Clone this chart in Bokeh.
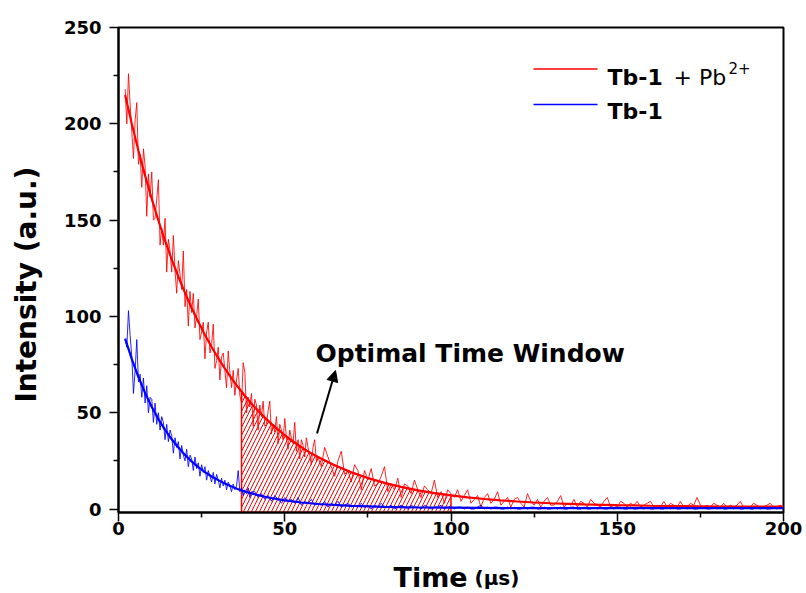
import numpy as np
from bokeh.plotting import figure
from bokeh.models import FixedTicker, Label, Arrow, NormalHead
from bokeh.embed import file_html
from bokeh.resources import INLINE

# ---------------- data ----------------
# Tb-1 + Pb2+ : measured decay (time in µs)
red_t = list(np.arange(2.0, 60.01, 0.5)) + list(range(61, 201))
red_y = [
    218, 200, 226, 210, 196, 182, 202, 211, 179, 184, 167, 187, 178, 152, 174, 162, 175, 150, 151, 161,
    171, 137, 146, 137, 151, 123, 140, 134, 123, 142, 124, 112, 129, 122, 114, 134, 105, 114, 95, 113,
    102, 112, 94, 100, 109, 88, 92, 97, 78, 92, 97, 81, 85, 96, 73, 77, 84, 67, 79, 81,
    72, 63, 82, 71, 63, 72, 59, 67, 73, 59, 55, 76, 71, 50, 58, 53, 60, 43, 57, 54,
    41, 54, 48, 56, 43, 44, 51, 56, 39, 44, 40, 48, 34, 44, 41, 36, 47, 37, 31, 41,
    37, 34, 45, 30, 36, 26, 36, 33, 27, 37, 32, 28, 23, 32, 36, 25, 27,
    22, 32, 27, 22, 17, 25, 30, 18, 20, 14,
    23, 20, 10, 20, 15, 21, 12, 13, 17, 22,
    9, 13, 10, 16, 6, 13, 12, 8, 15, 10,
    6, 12, 10, 8, 15, 6, 9, 3, 10, 8,
    6, 10, 4, 7, 10, 3, 5, 7, 1, 6,
    8, 3, 5, 9, 2, 4, 6, 1, 5, 6,
    3, 1, 8, 4, 2, 5, 1, 4, 6, 2,
    2, 4, 7, 1, 3, 2, 5, 1, 4, 3,
    1, 5, 3, 2, 1, 4, 6, 1, 2, 1,
    4, 3, 1, 3, 2, 4, 1, 2, 3, 4,
    1, 2, 1, 4, 1, 3, 2, 1, 4, 1,
    1, 3, 2, 6, 2, 1, 2, 1, 3, 2,
    1, 3, 1, 2, 1, 2, 4, 1, 1, 1,
    3, 2, 1, 1, 2, 3, 1, 1, 2, 1,
]

# Tb-1 : measured decay
blue_t = list(np.arange(2.0, 40.01, 0.5)) + list(range(41, 201))
blue_y = [
    88, 84, 103, 90, 79, 60, 72, 88, 66, 70, 58, 68, 55, 64, 50, 58, 57, 45, 55, 44,
    50, 41, 48, 45, 36, 44, 35, 41, 38, 29, 37, 32, 35, 26, 33, 28, 25, 31, 22, 28,
    26, 20, 27, 21, 24, 17, 23, 19, 22, 15, 20, 17, 14, 19, 13, 18, 15, 11, 16, 12,
    15, 10, 14, 12, 9, 13, 10, 12, 20, 9, 11, 7, 10, 8, 11, 6, 9,
    9, 6, 8, 5, 7, 4, 7, 5, 3, 6,
    4, 5, 3, 6, 2, 4, 3, 5, 2, 3,
    2, 4, 1, 3, 2, 4, 1, 2, 3, 1,
    2, 1, 3, 1, 2, 0, 2, 1, 3, 1,
    1, 2, 0, 1, 2, 1, 0, 2, 1, 1,
    0, 2, 1, 0, 1, 1, 2, 0, 1, 1,
    0, 1, 1, 0, 1, 0, 0, 1, 2, 0, 1, 0, 1, 1, 0, 0, 1, 0, 1, 0,
    0, 1, 0, 1, 1, 0, 0, 1, 0, 0, 1, 0, 1, 0, 0, 1, 1, 0, 0, 1,
    0, 0, 1, 0, 1, 0, 0, 1, 0, 1, 1, 0, 0, 1, 0, 0, 1, 0, 1, 0,
    0, 1, 0, 0, 1, 0, 1, 0, 0, 1, 0, 1, 0, 0, 1, 1, 0, 0, 1, 0,
    1, 0, 0, 1, 0, 1, 0, 0, 1, 0, 0, 1, 0, 1, 0, 0, 1, 0, 1, 0,
]

# fitted decay curves
red_fit_t = [2, 4, 6, 8, 10, 12, 14, 16, 18, 20, 22, 24, 26, 28, 30, 32, 34, 36, 37,
             38, 40, 42, 44, 46, 48, 50, 52, 54, 56, 58, 60,
             65, 70, 75, 80, 85, 90, 95, 100, 105, 110, 115, 120, 125, 130, 135, 140, 145, 150,
             160, 170, 180, 190, 200]
red_fit_y = [215, 200.0, 186.0, 173.1, 161.0, 149.8, 139.3, 129.6, 120.6, 112.2, 104.4, 97.2, 90.4,
             84.1, 78.3, 72.9, 67.8, 63.2, 61.0,
             58.8, 54.7, 51.0, 47.5, 44.2, 41.2, 38.4, 35.7, 33.3, 31.0, 28.9, 27.0,
             22.7, 19.1, 16.1, 13.6, 11.5, 9.7, 8.3, 7.1, 6.1, 5.2, 4.5, 3.9, 3.4, 3.0, 2.7, 2.4, 2.2, 2.0,
             1.7, 1.5, 1.3, 1.2, 1.2]
blue_fit_t = [2, 4, 6, 8, 10, 12, 14, 16, 18, 20, 22, 24, 26, 28, 30, 32, 34, 36, 38, 40,
              45, 50, 55, 60, 70, 80, 90, 100, 120, 150, 200]
blue_fit_y = [88.5, 77.8, 68.5, 60.3, 53.0, 46.7, 41.1, 36.2, 31.9, 28.1, 24.7, 21.8, 19.2, 16.9,
              15.0, 13.2, 11.7, 10.3, 9.1, 8.1,
              6.0, 4.5, 3.4, 2.6, 1.6, 1.1, 0.8, 0.7, 0.5, 0.5, 0.5]

# optimal time window (µs)
WIN_START, WIN_END = 37, 100

x_ticks = [0, 50, 100, 150, 200]
x_minor = [25, 75, 125, 175]
y_ticks = [0, 50, 100, 150, 200, 250]
y_minor = [25, 75, 125, 175, 225]

RED = "#FF0000"
BLUE = "#0000FF"
NBSP = "\u00a0"

# ---------------- layout ----------------
W, H = 806, 593
FL, FR, FT, FB = 118, 783, 27, 512
X0, X1 = 0, 200
Y0, Y1 = -1.8, 250


def dx(px):
    return X0 + (px - FL) / (FR - FL) * (X1 - X0)


def dy(py):
    return Y0 + (FB - py) / (FB - FT) * (Y1 - Y0)


p = figure(width=W, height=H, x_range=(X0, X1), y_range=(Y0, Y1),
           output_backend="svg", toolbar_location=None,
           min_border_left=FL, min_border_right=W - FR,
           min_border_top=FT, min_border_bottom=H - FB)
p.grid.visible = False
p.outline_line_color = "black"
p.outline_line_width = 2
p.background_fill_color = "white"
p.border_fill_color = "white"

p.xaxis.ticker = FixedTicker(ticks=x_ticks, minor_ticks=x_minor)
p.yaxis.ticker = FixedTicker(ticks=y_ticks, minor_ticks=y_minor)
for ax in (p.xaxis[0], p.yaxis[0]):
    ax.axis_line_width = 2
    ax.axis_line_color = "black"
    ax.major_tick_line_width = 1.5
    ax.minor_tick_line_width = 1.5
    ax.major_tick_in = 0
    ax.major_tick_out = 9
    ax.minor_tick_in = 0
    ax.minor_tick_out = 5
    ax.major_label_text_font = "DejaVu Sans"
    ax.major_label_text_font_style = "bold"
    ax.major_label_text_font_size = "18px"
    ax.major_label_text_color = "black"
    ax.axis_label_text_font = "DejaVu Sans"
    ax.axis_label_text_font_style = "bold"
    ax.axis_label_text_color = "black"
p.yaxis.major_label_standoff = 8
p.xaxis.major_label_standoff = 0

p.yaxis.axis_label = "Intensity (a.u.)" + NBSP * 3
p.yaxis.axis_label_text_font_size = "28px"
p.yaxis.axis_label_standoff = 18

# hatched optimal-window area under the Tb-1 + Pb2+ fit
win = [(t, y) for t, y in zip(red_fit_t, red_fit_y) if WIN_START <= t <= WIN_END]
patch_x = [WIN_START] + [t for t, _ in win] + [WIN_END]
patch_y = [Y0] + [y for _, y in win] + [Y0]
p.patch(patch_x, patch_y, fill_alpha=0, hatch_pattern="/", hatch_color=RED,
        hatch_weight=1, hatch_scale=8, line_color=RED, line_width=1.5)

p.line(red_t, red_y, line_color=RED, line_width=1, line_alpha=0.85)
p.line(blue_t, blue_y, line_color=BLUE, line_width=1, line_alpha=0.85)
p.line(red_fit_t, red_fit_y, line_color=RED, line_width=2.2)
p.line(blue_fit_t, blue_fit_y, line_color=BLUE, line_width=2.2)

# annotation
p.add_layout(Arrow(end=NormalHead(size=11, fill_color="black", line_color="black"),
                   x_start=dx(316.5), y_start=dy(433), x_end=dx(335), y_end=dy(370),
                   line_color="black", line_width=2))


def text(px, py, s, size, bold=True, place=None, **kw):
    lab = Label(x=dx(px), y=dy(py), text=s,
                text_font="DejaVu Sans", text_font_style="bold" if bold else "normal",
                text_font_size=size, text_color="black",
                text_baseline=kw.pop("baseline", "alphabetic"),
                text_align=kw.pop("align", "left"), **kw)
    if place:
        p.add_layout(lab, place)
    else:
        p.add_layout(lab)


text(315, 353, "Optimal Time Window", "25px")

# legend
for yy, col in ((68.5, RED), (104, BLUE)):
    p.add_layout(Arrow(end=None, x_start=dx(533), y_start=dy(yy), x_end=dx(597), y_end=dy(yy),
                       line_color=col, line_width=1.5))
text(607, 77, "Tb-1", "22px")
text(673, 77, "+ Pb", "22px", bold=False)
text(728, 67, "2+", "15px", bold=False)
text(607, 111, "Tb-1", "22px")

# x-axis title, in the panel below the axis so that it is not clipped to the frame
text(393, 577, "Time", "27px", place="below")
text(474, 577, "(µs)", "20px", place="below")

open("out.html", "w").write(file_html(p, INLINE))
